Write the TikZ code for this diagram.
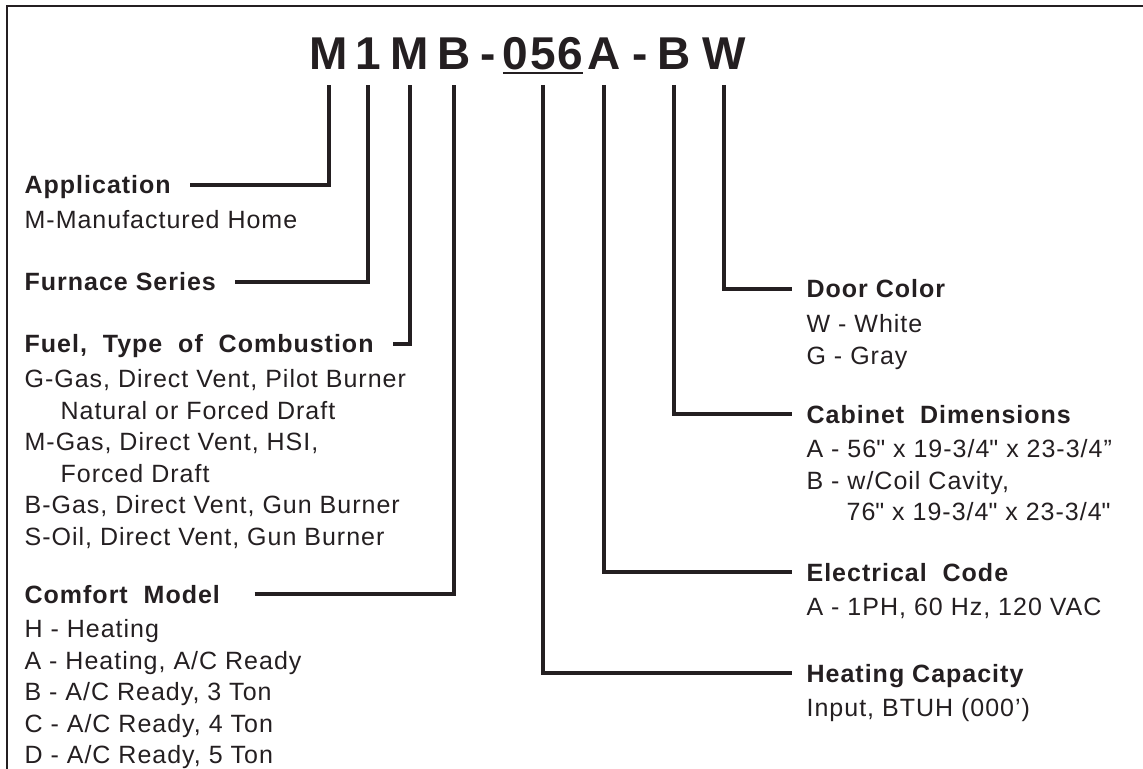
\documentclass[tikz,border=0pt]{standalone}
\usepackage{fontspec}
\setmainfont{Liberation Sans}[LetterSpace=4]
\usetikzlibrary{positioning}
\definecolor{ink}{rgb}{0.14,0.12,0.13}
\newcommand{\inch}{\XeTeXglyph\XeTeXglyphindex "quotedbl"\relax}

\begin{document}
\begin{tikzpicture}[x=0.5pt, y=-0.5pt, line width=1.6pt, color=ink,
        code/.style = {font=\fontsize{23}{23}\selectfont\bfseries, inner sep=0pt, text depth=0pt, outer xsep=0pt, outer ysep=7.5pt, anchor=base},
        head/.style = {font=\fontsize{12.5}{15.75}\selectfont\bfseries, inner sep=0pt, text height=9pt, text depth=0pt, anchor=west},
        body/.style = {font=\fontsize{12.5}{15.75}\selectfont, inner sep=0pt, align=left, below=4.75pt of #1.south west, anchor=north west}]
        \useasboundingbox (0,0) rectangle (1143,769);
        \draw[line width=1.3pt] (7,769) -- (7,6) -- (1143,6);

        % model number
        \node[code] (t_M1) at (329,70) {M};
        \node[code] (t_1) at (368,70) {1};
        \node[code] (t_M2) at (410,70) {M};
        \node[code] (t_B1) at (454,70) {B};
        \node[code] (t_d1) at (488,70) {-};
        \node[code] (t_056) at (543,70) {056};
        \node[code] (t_A) at (604,70) {A};
        \node[code] (t_d2) at (640,70) {-};
        \node[code] (t_B2) at (674,70) {B};
        \node[code] (t_W) at (724,70) {W};
        \draw[line width=1pt] ([yshift=-1.5pt]t_056.base west) -- ([yshift=-1.5pt]t_056.base east);

        % left side
        \node[head] (h_app) at (23,185) {Application};
        \node[body=h_app] (b_app) {\strut M-Manufactured Home};
        \node[head] (h_fur) at (23,282) {Furnace Series};
        \node[head] (h_fuel) at (23,344) {Fuel,~ Type~ of~ Combustion};
        \node[body=h_fuel] (b_fuel) {\strut G-Gas, Direct Vent, Pilot Burner\\ \hspace*{18pt}Natural or Forced Draft\\ M-Gas, Direct Vent, HSI,\\ \hspace*{18pt}Forced Draft\\ B-Gas, Direct Vent, Gun Burner\\ S-Oil, Direct Vent, Gun Burner};
        \node[head] (h_comf) at (23,594) {Comfort~ Model};
        \node[body=h_comf] (b_comf) {\strut H - Heating\\ A - Heating, A/C Ready\\ B - A/C Ready, 3 Ton\\ C - A/C Ready, 4 Ton\\ D - A/C Ready, 5 Ton};

        % right side
        \node[head] (h_door) at (805,289) {Door Color};
        \node[body=h_door] (b_door) {\strut W - White\\ G - Gray};
        \node[head] (h_cab) at (805,414) {Cabinet~ Dimensions};
        \node[body=h_cab] (b_cab) {\strut A - 56\inch{} x 19-3/4\inch{} x 23-3/4”\\ B - w/Coil Cavity,\\ \hspace*{20pt}76\inch{} x 19-3/4\inch{} x 23-3/4\inch};
        \node[head] (h_elec) at (805,572) {Electrical~ Code};
        \node[body=h_elec] (b_elec) {\strut A - 1PH, 60 Hz, 120 VAC};
        \node[head] (h_heat) at (805,673) {Heating Capacity};
        \node[body=h_heat] (b_heat) {\strut Input, BTUH (000’)};

        \draw ([xshift=9pt]h_app.east) -| (t_M1.south);
        \draw ([xshift=9pt]h_fur.east) -| (t_1.south);
        \draw ([xshift=9pt]h_fuel.east) -| (t_M2.south);
        \draw ([xshift=16.5pt]h_comf.east) -| (t_B1.south);
        \draw (t_W.south) |- ([xshift=-6.5pt]h_door.west);
        \draw (t_B2.south) |- ([xshift=-6.5pt]h_cab.west);
        \draw (t_A.south) |- ([xshift=-6.5pt]h_elec.west);
        \draw (t_056.south) |- ([xshift=-6.5pt]h_heat.west);
\end{tikzpicture}
\end{document}
